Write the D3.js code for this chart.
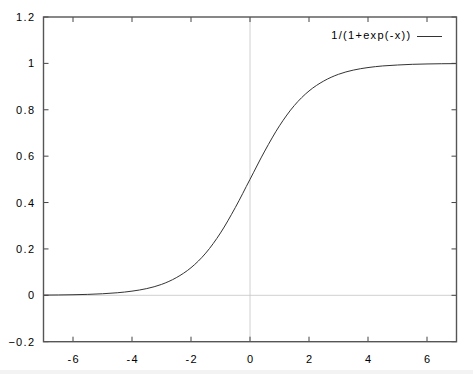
<!DOCTYPE html>
<html>
<head>
<meta charset="utf-8">
<script src="https://cdn.jsdelivr.net/npm/d3@7"></script>
<style>
  body { margin: 0; background: #fff; }
  text { font-family: "Liberation Sans", Arial, sans-serif; font-size: 11px; letter-spacing: 1.3px; fill: #000; }
</style>
</head>
<body>
<div class="chart"></div>
<script>

// values
var xs = [-7, -6.5, -6, -5.5, -5, -4.5, -4, -3.5, -3, -2.5, -2, -1.5, -1, -0.5,
          0, 0.5, 1, 1.5, 2, 2.5, 3, 3.5, 4, 4.5, 5, 5.5, 6, 6.5, 7];
var ys = [0.001, 0.0015, 0.0025, 0.004, 0.0067, 0.011, 0.018, 0.029, 0.047, 0.076, 0.119, 0.182, 0.269, 0.378,
          0.5, 0.622, 0.731, 0.818, 0.881, 0.924, 0.953, 0.971, 0.982, 0.989, 0.993, 0.996, 0.9975, 0.9985, 0.999];
var xTicks = [-6, -4, -2, 0, 2, 4, 6];
var yTicks = [-0.2, 0, 0.2, 0.4, 0.6, 0.8, 1, 1.2];
var legendLabel = "1/(1+exp(-x))";

var W = 473, H = 374;
var margin = {top: 17, right: 16.5, bottom: 32.3, left: 43.5},
    width = W - margin.left - margin.right,
    height = H - margin.top - margin.bottom;

var svg = d3.select(".chart")
	.append("svg")
	.attr("width", W)
	.attr("height", H)

// light strip at the very bottom
svg.append("rect")
	.attr("x", 0).attr("y", 370)
	.attr("width", W).attr("height", 4)
	.attr("fill", "#f3f3f3")

var g = svg.append("g")
	.attr("transform", "translate(" + margin.left + "," + margin.top + ")")

var x = d3.scaleLinear().domain([-7, 7]).range([0, width])
var y = d3.scaleLinear().domain([-0.2, 1.2]).range([height, 0])

// zero axes
g.append("line")
	.attr("x1", x(0)).attr("x2", x(0))
	.attr("y1", 0).attr("y2", height)
	.attr("stroke", "#c4c4c4").attr("stroke-width", 0.8)
g.append("line")
	.attr("x1", 0).attr("x2", width)
	.attr("y1", y(0)).attr("y2", y(0))
	.attr("stroke", "#c4c4c4").attr("stroke-width", 0.8)

// curve
var data = xs.map(function(d, i) { return {x: d, y: ys[i]}; })
var line = d3.line()
	.x(function(d) { return x(d.x); })
	.y(function(d) { return y(d.y); })
	.curve(d3.curveMonotoneX)

g.append("path")
	.datum(data)
	.attr("d", line)
	.attr("fill", "none")
	.attr("stroke", "#333")
	.attr("stroke-width", 1)

// ticks on all four sides, pointing inward
var tickLen = 5, tickColor = "#444";
xTicks.forEach(function(t) {
	g.append("line").attr("x1", x(t)).attr("x2", x(t)).attr("y1", height).attr("y2", height - tickLen)
		.attr("stroke", tickColor)
	g.append("line").attr("x1", x(t)).attr("x2", x(t)).attr("y1", 0).attr("y2", tickLen)
		.attr("stroke", tickColor)
	g.append("text")
		.attr("x", x(t) + 0.7)
		.attr("y", height + 21)
		.attr("text-anchor", "middle")
		.text(t)
})
yTicks.forEach(function(t) {
	g.append("line").attr("x1", 0).attr("x2", tickLen).attr("y1", y(t)).attr("y2", y(t))
		.attr("stroke", tickColor)
	g.append("line").attr("x1", width).attr("x2", width - tickLen).attr("y1", y(t)).attr("y2", y(t))
		.attr("stroke", tickColor)
	g.append("text")
		.attr("x", -8.2)
		.attr("y", y(t) + 4)
		.attr("text-anchor", "end")
		.text(d3.format("")(+t.toFixed(1)))
})

// frame
g.append("rect")
	.attr("width", width).attr("height", height)
	.attr("fill", "none")
	.attr("stroke", "#555")
	.attr("stroke-width", 1.4)

// legend
svg.append("text")
	.attr("x", 411.5)
	.attr("y", 39)
	.attr("text-anchor", "end")
	.text(legendLabel)
svg.append("line")
	.attr("x1", 417).attr("x2", 442)
	.attr("y1", 36.5).attr("y2", 36.5)
	.attr("stroke", "#333")

</script>
</body>
</html>
